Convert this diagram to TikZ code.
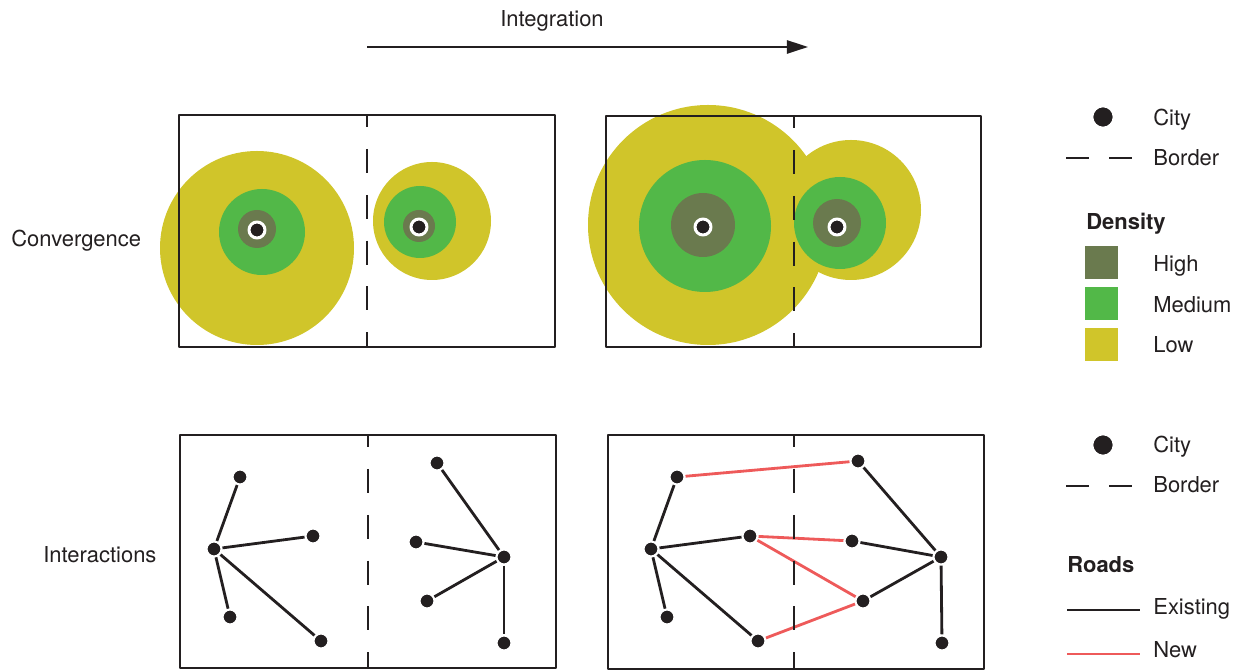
\documentclass[tikz,border=0pt]{standalone}
\usepackage{fontspec}
\setmainfont{TeX Gyre Heros}
\usetikzlibrary{arrows.meta}

\definecolor{ink}{HTML}{231F20}
\definecolor{lowc}{HTML}{D0C52A}
\definecolor{medc}{HTML}{52B848}
\definecolor{highc}{HTML}{6A7A4E}
\definecolor{roadred}{HTML}{EE5A5A}

\begin{document}
\begin{tikzpicture}[x=0.02cm, y=-0.02cm, line join=round,
  every node/.style={font=\fontsize{12.5}{15}\selectfont, text=ink},
  lbl/.style={anchor=base west, inner sep=0pt},
  head/.style={lbl, font=\fontsize{12.5}{15}\selectfont\bfseries},
  panel/.style={draw=ink, line width=1.1pt},
  border/.style={draw=ink, line width=1.1pt, dash pattern=on 13.6pt off 12.5pt, dash phase=6.8pt},
  town/.style={circle, fill=ink, draw=white, line width=1.7pt, inner sep=0pt, minimum size=0.32cm},
  city/.style={circle, fill=ink, draw=white, line width=1.2pt, inner sep=0pt, minimum size=0.30cm},
  road/.style={draw=ink, line width=1.6pt},
  newroad/.style={draw=roadred, line width=1.6pt}]

\useasboundingbox (0,0) rectangle (1244,671);

% Freccia di integrazione
\node[anchor=base] (integ) at (552,27) {Integration};
\coordinate (ia) at (367,47);
\coordinate (ib) at (808,47);
\draw[-{Triangle[length=12pt, width=7.5pt]}, ink, line width=1.3pt] (ia) -- (ib);

% Etichette delle righe
\node[lbl] (conv) at (11,247) {Convergence};
\node[lbl] (inter) at (43,563) {Interactions};

% Convergenza: prima
\fill[lowc] (257,248) circle (97);
\fill[medc] (262,232) circle (43);
\fill[highc] (257,229) circle (19);
\node[town] (t1) at (257,230) {};
\fill[lowc] (432,221) circle (59);
\fill[medc] (420,222) circle (36);
\fill[highc] (419,226) circle (16);
\node[town] (t2) at (419,227) {};
\draw[panel] (179,115) rectangle (555,347);
\draw[border] (367,115) -- (367,347);

% Convergenza: dopo
\fill[lowc] (708,225) circle (120);
\fill[medc] (705,226) circle (66);
\fill[highc] (703,225) circle (32);
\node[town] (t3) at (703,227) {};
\fill[lowc] (851,210) circle (70);
\fill[medc] (840,223) circle (46);
\fill[highc] (837,223) circle (24);
\node[town] (t4) at (837,227) {};
\draw[panel] (606,116) rectangle (981,347);
\draw[border] (794,116) -- (794,347);

% Interazioni: prima
\draw[panel] (180,435) rectangle (556,668);
\node[city] (a1) at (240,477) {};
\node[city] (b1) at (214,549) {};
\node[city] (c1) at (313,536) {};
\node[city] (d1) at (230,617) {};
\node[city] (e1) at (321,641) {};
\node[city] (f1) at (437,463) {};
\node[city] (g1) at (416,542) {};
\node[city] (h1) at (504,557) {};
\node[city] (i1) at (427,601) {};
\node[city] (j1) at (504,643) {};
\draw[road] (b1) -- (a1);
\draw[road] (b1) -- (c1);
\draw[road] (b1) -- (d1);
\draw[road] (b1) -- (e1);
\draw[road] (h1) -- (f1);
\draw[road] (h1) -- (g1);
\draw[road] (h1) -- (i1);
\draw[road] (h1) -- (j1);
\draw[border] (368,435) -- (368,668);

% Interazioni: dopo
\draw[panel] (608,435) rectangle (984,669);
\node[city] (a2) at (677,477) {};
\node[city] (b2) at (651,549) {};
\node[city] (c2) at (750,536) {};
\node[city] (d2) at (667,617) {};
\node[city] (e2) at (758,641) {};
\node[city] (f2) at (858,461) {};
\node[city] (g2) at (852,541) {};
\node[city] (h2) at (941,557) {};
\node[city] (i2) at (863,601) {};
\node[city] (j2) at (942,643) {};
\draw[road] (b2) -- (a2);
\draw[road] (b2) -- (c2);
\draw[road] (b2) -- (d2);
\draw[road] (b2) -- (e2);
\draw[road] (h2) -- (f2);
\draw[road] (h2) -- (g2);
\draw[road] (h2) -- (i2);
\draw[road] (h2) -- (j2);
\draw[newroad] (a2) -- (f2);
\draw[newroad] (c2) -- (g2);
\draw[newroad] (c2) -- (i2);
\draw[newroad] (e2) -- (i2);
\draw[border] (794,435) -- (794,669);

% Legenda densita
\node[city, minimum size=0.43cm] (lc1) at (1103,117) {};
\node[lbl] (tc1) at (1153,126) {City};
\draw[ink, line width=1.1pt] (1066,158) -- (1089,158) (1109,158) -- (1132,158);
\node[lbl] (tb1) at (1153,166) {Border};
\node[head] (dens) at (1086,230) {Density};
\fill[highc] (1085,246) rectangle (1118,279);
\fill[medc] (1085,287) rectangle (1118,320);
\fill[lowc] (1085,328) rectangle (1118,361);
\node[lbl] (thigh) at (1153,272) {High};
\node[lbl] (tmed) at (1153,313) {Medium};
\node[lbl] (tlow) at (1153,353) {Low};

% Legenda strade
\node[city, minimum size=0.43cm] (lc2) at (1103,445) {};
\node[lbl] (tc2) at (1153,453) {City};
\draw[ink, line width=1.1pt] (1066,486) -- (1089,486) (1109,486) -- (1132,486);
\node[lbl] (tb2) at (1153,493) {Border};
\node[head] (roads) at (1067,573) {Roads};
\coordinate (ea) at (1067,610);
\coordinate (eb) at (1140,610);
\coordinate (na) at (1067,654);
\coordinate (nb) at (1140,654);
\draw[road] (ea) -- (eb);
\draw[newroad] (na) -- (nb);
\node[lbl] (texist) at (1153,615) {Existing};
\node[lbl] (tnew) at (1153,658) {New};

\end{tikzpicture}
\end{document}
